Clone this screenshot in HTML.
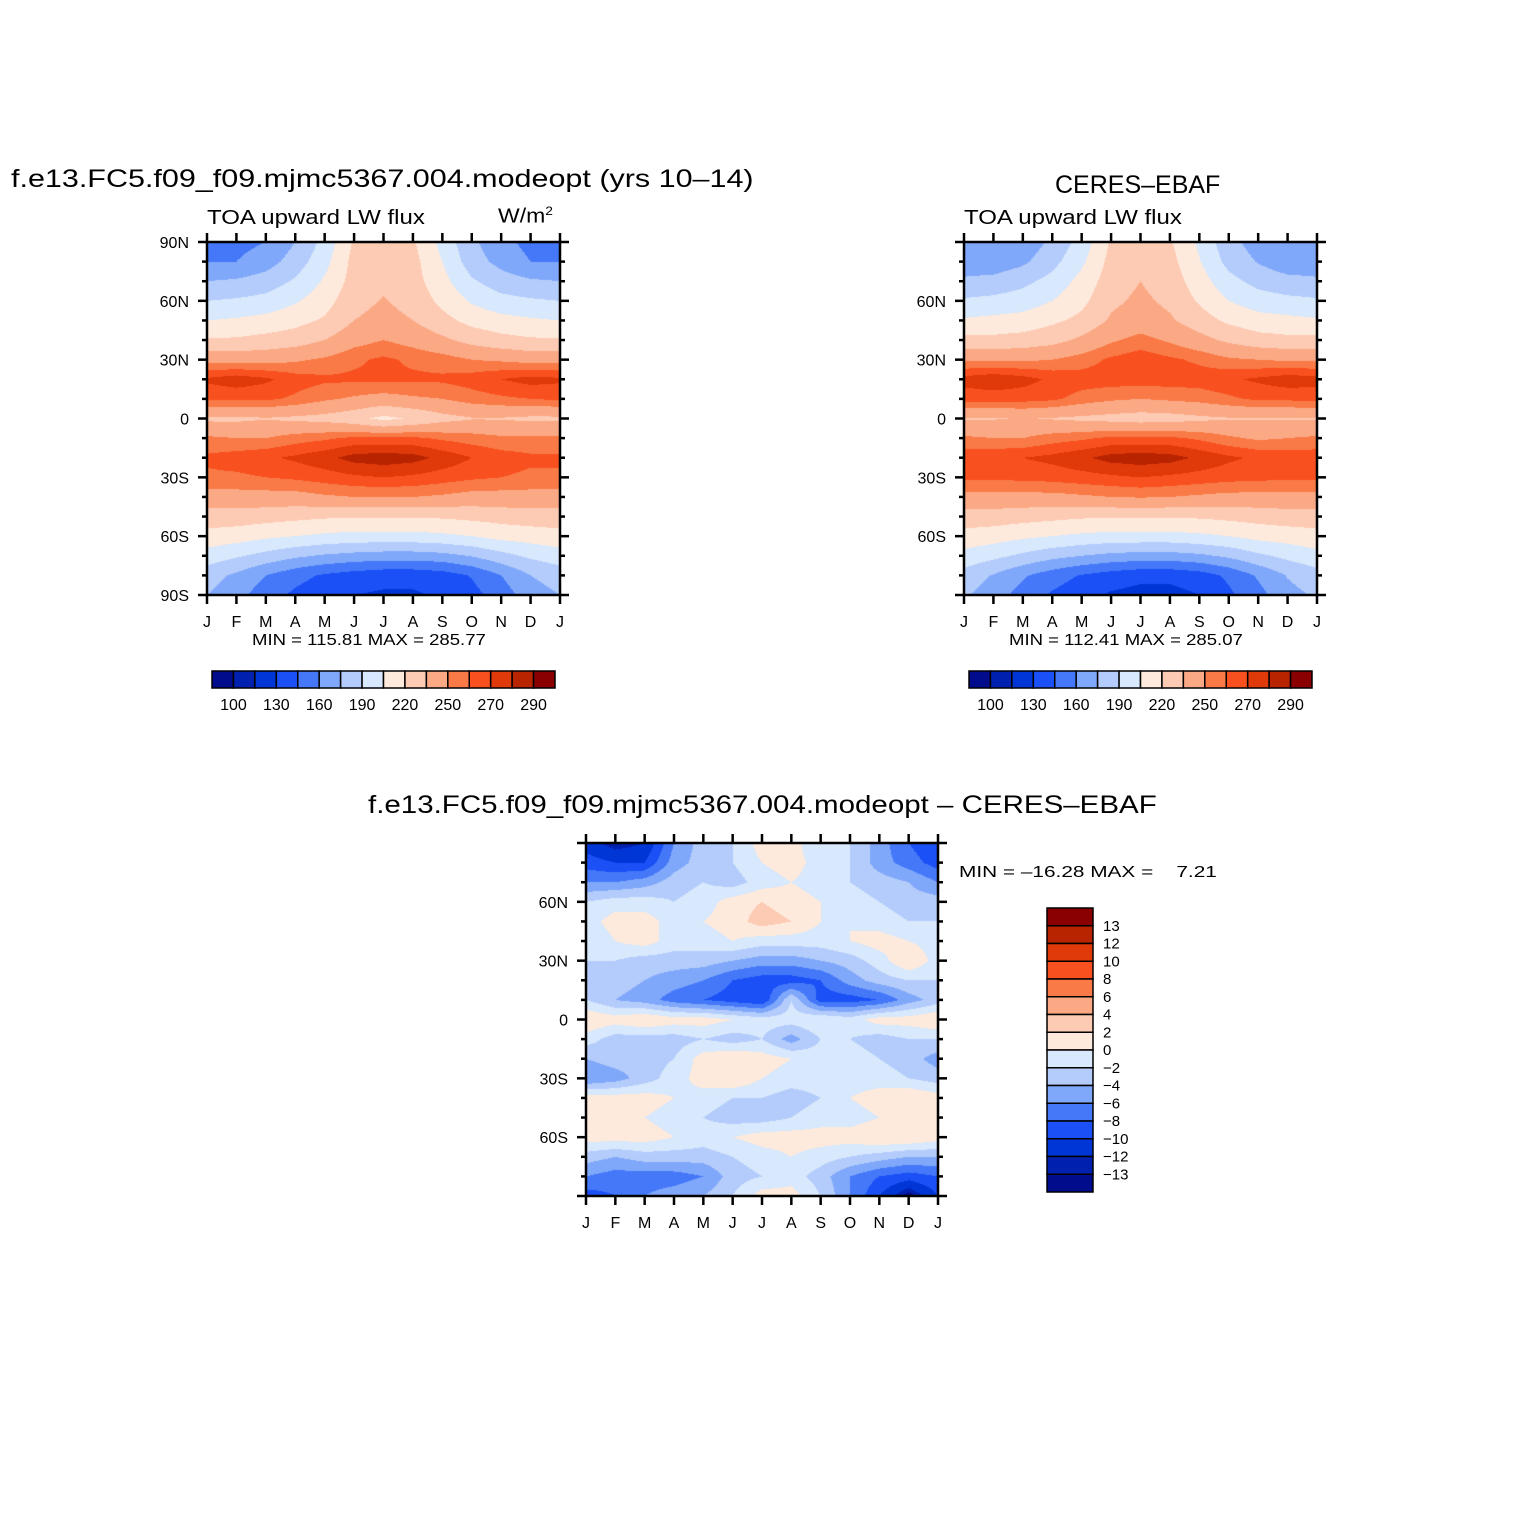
<!DOCTYPE html>
<html><head><meta charset="utf-8">
<style>
body{margin:0;background:#fff;}
#wrap{position:relative;width:1524px;height:1524px;overflow:hidden;font-family:"Liberation Sans","DejaVu Sans",sans-serif;}
.t{position:absolute;white-space:nowrap;color:#000;transform-origin:0 0;}
canvas{position:absolute;}
svg{position:absolute;left:0;top:0;}
</style></head>
<body>
<div id="wrap">
<div class="t" style="left:11px;top:165px;font-size:25px;transform:scaleX(1.22)">f.e13.FC5.f09_f09.mjmc5367.004.modeopt (yrs 10&#8211;14)</div>
<div class="t" style="left:207px;top:207px;font-size:20px;transform:scaleX(1.2)">TOA upward LW flux</div>
<div class="t" style="left:498px;top:204px;font-size:20px;transform:scaleX(1.15)">W/m<sup style="font-size:12px">2</sup></div>
<div class="t" style="left:1055px;top:171px;font-size:25px;">CERES&#8211;EBAF</div>
<div class="t" style="left:964px;top:207px;font-size:20px;transform:scaleX(1.2)">TOA upward LW flux</div>
<div class="t" style="left:252px;top:632px;font-size:16px;transform:scaleX(1.16)">MIN = 115.81 MAX = 285.77</div>
<div class="t" style="left:1009px;top:632px;font-size:16px;transform:scaleX(1.16)">MIN = 112.41 MAX = 285.07</div>
<div class="t" style="left:368px;top:791px;font-size:25px;transform:scaleX(1.18)">f.e13.FC5.f09_f09.mjmc5367.004.modeopt &#8211; CERES&#8211;EBAF</div>
<div class="t" style="left:959px;top:864px;font-size:16px;transform:scaleX(1.3)">MIN = &#8211;16.28 MAX = &nbsp;&nbsp;&nbsp;7.21</div>
<canvas id="c1" width="353" height="353" style="left:207px;top:242px"></canvas>
<canvas id="c2" width="353" height="353" style="left:964px;top:242px"></canvas>
<canvas id="c3" width="352" height="353" style="left:586px;top:843px"></canvas>
<svg id="ov" width="1524" height="1524"></svg>
</div>
<script>
const months=["J","F","M","A","M","J","J","A","S","O","N","D","J"];
const lats=[90,80,70,60,50,40,30,20,10,0,-10,-20,-30,-40,-50,-60,-70,-80,-90];
const palette=["#000c8c","#0020b0","#0036d6","#1a50f5","#4478f8","#80a8fa","#b4ccfb","#d8e8fd","#feeadc","#fdcab4","#fba985","#f97a46","#f8501f","#e03a0a","#b82300","#8a0000"];
const absLevels=[100,115,130,145,160,175,190,205,220,235,250,260,270,280,290];
const absLabels=["100","130","160","190","220","250","270","290"];
const diffLevels=[-13,-12,-10,-8,-6,-4,-2,0,2,4,6,8,10,12,13];
const diffLabels=["13","12","10","8","6","4","2","0","\u22122","\u22124","\u22126","\u22128","\u221210","\u221212","\u221213"];
const modelField=[
[155,155,160,175,195,222,228,222,200,178,165,155,155],
[160,160,168,182,200,225,230,225,205,182,170,160,160],
[175,177,182,192,207,226,232,226,210,192,182,177,175],
[190,192,195,203,214,230,236,230,216,203,195,192,190],
[205,207,210,215,222,235,240,235,225,215,210,207,205],
[222,222,225,228,235,245,250,245,238,230,225,222,222],
[245,245,245,248,252,258,262,258,255,250,248,245,245],
[272,276,272,265,262,262,262,262,262,265,270,274,272],
[262,262,262,258,252,248,245,248,250,255,258,260,262],
[232,232,234,232,230,225,216,222,230,234,234,232,232],
[252,250,250,255,258,262,262,262,258,255,252,252,252],
[262,265,268,272,277,284,286,284,277,270,265,262,262],
[258,258,260,262,265,268,270,268,265,262,260,258,258],
[245,245,245,245,248,250,250,250,248,245,245,245,245],
[228,228,226,224,222,222,222,222,222,224,226,228,228],
[215,212,208,205,202,200,200,200,202,205,210,212,215],
[198,192,185,178,173,170,168,168,170,176,185,193,198],
[182,172,160,150,143,138,135,135,138,146,160,175,182],
[175,165,152,142,135,130,128,128,132,140,152,168,175]];
const obsField=[
[160,160,165,178,196,222,228,222,202,180,168,160,160],
[165,165,172,185,202,225,230,225,206,185,174,165,165],
[178,180,186,195,210,228,235,228,212,195,185,180,178],
[192,194,197,205,216,232,238,232,218,205,197,194,192],
[207,209,211,217,224,237,242,237,227,217,211,209,207],
[224,224,226,230,238,248,254,248,240,232,226,224,224],
[248,248,248,250,255,262,266,262,258,252,250,248,248],
[274,278,274,268,265,265,265,265,265,268,272,276,274],
[264,264,264,262,256,252,250,252,254,258,262,262,264],
[234,234,236,234,232,230,228,229,232,234,234,234,234],
[252,250,250,255,258,262,262,262,258,252,248,250,252],
[266,268,270,273,278,284,286,284,278,272,268,266,266],
[262,262,263,264,266,268,270,268,266,264,263,262,262],
[246,246,246,246,248,250,251,250,248,246,246,246,246],
[228,228,226,224,222,222,222,222,222,224,226,228,228],
[215,212,208,205,202,200,200,200,202,205,210,212,215],
[200,194,187,180,175,171,169,169,172,178,187,194,200],
[184,174,162,152,144,138,134,134,138,148,162,176,184],
[177,167,154,143,135,128,125,125,130,142,155,170,177]];
const diffField=[
[-11,-13,-12,-6,-3,-2,1,1,-2,-2,-5,-8,-10],
[-9,-10,-10,-5,-3,-2,0,1,-1,-2,-5,-7,-9],
[-6,-6,-5,-3,-2,-3,-1,0,-1,-2,-3,-4,-6],
[-2,-1,-1,-2,-1,1,2,1,0,-1,-2,-3,-3],
[-1,1,1,-1,0,1,3,2,0,0,-1,-2,-2],
[-2,0,1,-1,-1,0,-1,-1,-1,0,1,0,-1],
[-2,-2,-3,-3,-3,-4,-5,-5,-4,-3,-1,2,-1],
[-3,-3,-4,-5,-6,-8,-9,-9,-8,-5,-3,-2,-2],
[-2,-4,-5,-7,-8,-9,-10,-2,-9,-9,-8,-5,-3],
[2,1,2,1,1,0,-1,-1,0,-1,1,1,2],
[-1,-3,-3,-3,-2,-3,-2,-5,-2,-2,-3,-2,-2],
[-4,-3,-3,-2,1,2,1,0,-1,-1,-2,-3,-5],
[-6,-5,-3,-1,1,2,0,-1,-1,-1,-1,-2,-3],
[1,1,1,0,-1,-2,-2,-3,-2,0,1,2,1],
[1,1,0,-1,-2,-3,-3,-2,-1,-1,0,1,1],
[1,1,1,0,-1,0,1,1,1,1,2,2,1],
[-3,-4,-3,-3,-3,-2,-1,0,-1,-2,-3,-4,-4],
[-6,-7,-7,-7,-6,-3,-2,-1,-3,-6,-8,-9,-8],
[-9,-8,-6,-5,-4,-2,1,1,-2,-6,-10,-14,-10]];

function levelIndex(v,levels){let i=0;while(i<levels.length&&v>=levels[i])i++;return i;}
function hex(c){return [parseInt(c.substr(1,2),16),parseInt(c.substr(3,2),16),parseInt(c.substr(5,2),16)];}
const rgb=palette.map(hex);
function drawField(id,field,levels){
  const cv=document.getElementById(id),ctx=cv.getContext('2d');
  const W=cv.width,H=cv.height,img=ctx.createImageData(W,H);
  const nx=months.length-1,ny=lats.length-1;
  for(let py=0;py<H;py++){
    const fy=(py+0.5)/H*ny;let j=Math.min(Math.floor(fy),ny-1);const ty=fy-j;
    for(let px=0;px<W;px++){
      const fx=(px+0.5)/W*nx;let i=Math.min(Math.floor(fx),nx-1);const tx=fx-i;
      const v=(field[j][i]*(1-tx)+field[j][i+1]*tx)*(1-ty)+(field[j+1][i]*(1-tx)+field[j+1][i+1]*tx)*ty;
      const c=rgb[levelIndex(v,levels)];const k=(py*W+px)*4;
      img.data[k]=c[0];img.data[k+1]=c[1];img.data[k+2]=c[2];img.data[k+3]=255;
    }
  }
  ctx.putImageData(img,0,0);
}
drawField('c1',modelField,absLevels);
drawField('c2',obsField,absLevels);
drawField('c3',diffField,diffLevels);

const NS="http://www.w3.org/2000/svg";
const ov=document.getElementById('ov');
function el(tag,attrs,parent){const e=document.createElementNS(NS,tag);for(const k in attrs)e.setAttribute(k,attrs[k]);(parent||ov).appendChild(e);return e;}
function axes(x0,y0,w,h,showPoles,name){
  const g=el('g',{});
  
  
  const xs=m=>x0+m/(months.length-1)*w;
  const ys=l=>y0+(90-l)/180*h;
  months.forEach((m,i)=>{
    const x=xs(i);
    el('line',{x1:x,y1:y0,x2:x,y2:y0-9,stroke:'#000','stroke-width':2.5},g);
    el('line',{x1:x,y1:y0+h,x2:x,y2:y0+h+9,stroke:'#000','stroke-width':2.5},g);
    const t=el('text',{x:x,y:y0+h+32,'font-size':16,'text-anchor':'middle','font-family':'Liberation Sans, sans-serif'},g);
    t.textContent=m;
    
    
  });
  for(let l=90;l>=-90;l-=10){
    const y=ys(l),major=(l%30===0),len=major?9:5;
    el('line',{x1:x0,y1:y,x2:x0-len,y2:y,stroke:'#000','stroke-width':2.5},g);
    el('line',{x1:x0+w,y1:y,x2:x0+w+len,y2:y,stroke:'#000','stroke-width':2.5},g);
    if(major&&(showPoles||Math.abs(l)<90)){
      const t=el('text',{x:x0-18,y:y+6,'font-size':16,'text-anchor':'end','font-family':'Liberation Sans, sans-serif'},g);
      t.textContent=l===0?'0':(Math.abs(l)+(l>0?'N':'S'));
      
      
    }
  }
  el('rect',{x:x0,y:y0,width:w,height:h,fill:'none',stroke:'#000','stroke-width':2.5},g);
}
axes(207,242,353,353,true,'model');
axes(964,242,353,353,false,'obs');
axes(586,843,352,353,false,'diff');

function hbar(x0,y0,w,h,name){
  const g=el('g',{});
  
  
  const bw=w/palette.length;
  palette.forEach((c,i)=>{el('rect',{x:x0+i*bw,y:y0,width:bw,height:h,fill:c,stroke:'#000','stroke-width':1.5},g);});
  absLabels.forEach((s,k)=>{
    const t=el('text',{x:x0+(1+2*k)*bw,y:y0+h+22,'font-size':16,'text-anchor':'middle','font-family':'Liberation Sans, sans-serif'},g);
    t.textContent=s;
    
    
  });
}
hbar(212,671,343,17,'model-colorbar');
hbar(969,671,343,17,'obs-colorbar');
(function(){
  const x0=1047,y0=908,w=46,h=284;
  const g=el('g',{});
  
  
  const bh=h/palette.length;
  palette.slice().reverse().forEach((c,i)=>{el('rect',{x:x0,y:y0+i*bh,width:w,height:bh,fill:c,stroke:'#000','stroke-width':1.5},g);});
  diffLabels.forEach((s,k)=>{
    const t=el('text',{x:x0+w+10,y:y0+(k+1)*bh+5,'font-size':15,'font-family':'Liberation Sans, sans-serif'},g);
    t.textContent=s;
    
    
  });
})();
</script>
</body></html>
